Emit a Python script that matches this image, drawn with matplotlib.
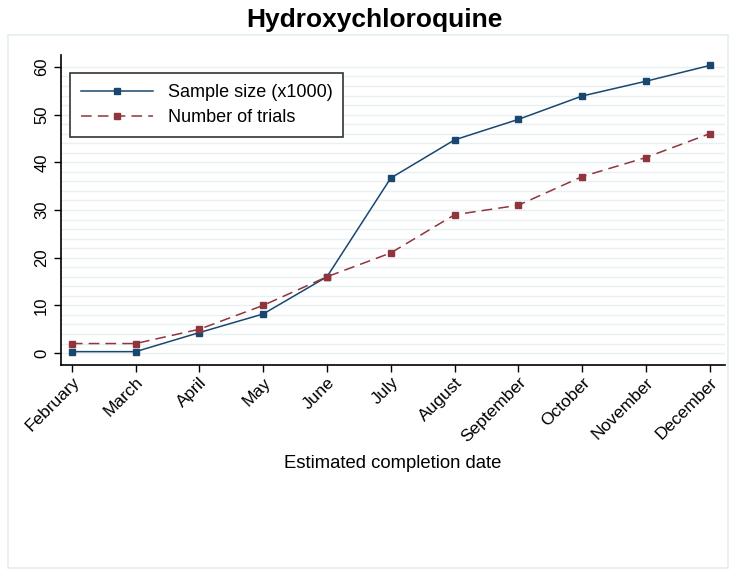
import matplotlib
matplotlib.use('Agg')
import matplotlib.pyplot as plt
from matplotlib.patches import Rectangle
import numpy as np

months = ['February', 'March', 'April', 'May', 'June', 'July', 'August',
          'September', 'October', 'November', 'December']
sample_size = [0.3, 0.3, 4.3, 8.2, 16, 36.7, 44.7, 49, 53.9, 57, 60.3]
n_trials = [2, 2, 5, 10, 16, 21, 29, 31, 37, 41, 46]

navy = '#1a476f'
maroon = '#90353b'

plt.rcParams['font.family'] = ['Liberation Sans', 'DejaVu Sans']

fig = plt.figure(figsize=(7.33, 5.70), dpi=100)
# light frame around the graph region (Stata style)
fig.patches.append(Rectangle((8/733, 1-568/570), 720/733, 533/570, transform=fig.transFigure,
                             fill=False, edgecolor='#e4eef0', linewidth=1.2))
ax = fig.add_axes([61/733, 1-365/570, 664/733, 310/570])

x = np.arange(len(months))
ax.plot(x, sample_size, color=navy, lw=1.1, marker='s', ms=5, label='Sample size (x1000)')
ax.plot(x, n_trials, color=maroon, lw=1.1, ls=(0, (7, 4)), marker='s', ms=5, label='Number of trials')

ax.set_xlim(-0.17, 10.24)
ax.set_ylim(-2.5, 62.5)
ax.set_yticks(np.arange(0, 61, 10))
ax.set_yticks(np.arange(0, 61, 2), minor=True)
ax.yaxis.grid(True, which='both', color='#e7f0f2', lw=1)
ax.set_axisbelow(True)
ax.tick_params(axis='y', which='minor', length=0)
ax.tick_params(axis='both', which='major', length=5, width=1, direction='out')
ax.tick_params(axis='y', labelsize=12)
ax.tick_params(axis='x', labelsize=12.5, pad=2)
for lbl in ax.get_yticklabels():
    lbl.set_rotation(90)
    lbl.set_va('center')
ax.set_xticks(x)
ax.set_xticklabels(months, rotation=45, ha='right', rotation_mode='anchor')
for sp in ['top', 'right']:
    ax.spines[sp].set_visible(False)
ax.spines['left'].set_linewidth(1.2)
ax.spines['bottom'].set_linewidth(1.2)

ax.set_xlabel('Estimated completion date', fontsize=13.3, labelpad=7)
fig.text(374/733, 1-20/570, 'Hydroxychloroquine', ha='center', va='center',
         fontsize=19, fontweight='bold')

leg = ax.legend(loc='upper left', bbox_to_anchor=(0.0, 0.97), fontsize=13,
                fancybox=False, framealpha=1, edgecolor='#333333', handlelength=4,
                borderpad=0.6, labelspacing=0.45)
leg.get_frame().set_linewidth(1.2)

fig.savefig('out.png', dpi=100)
